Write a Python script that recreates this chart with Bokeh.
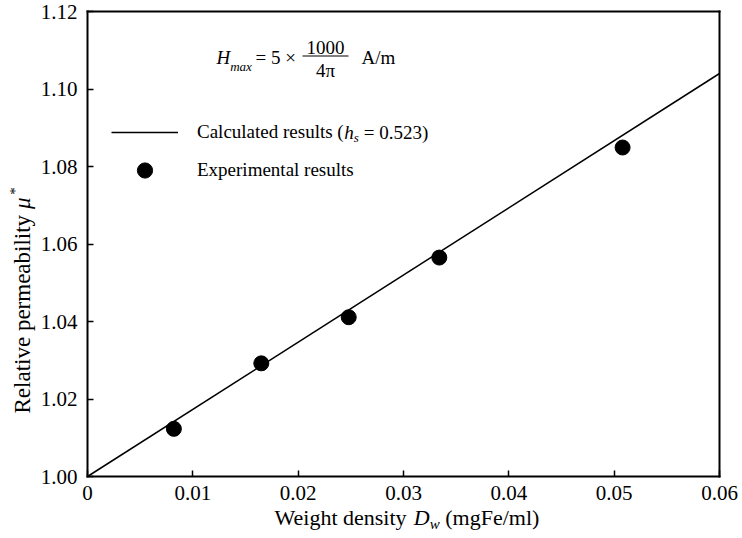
from bokeh.plotting import figure
from bokeh.models import Range1d, Label, Legend, LegendItem, BoxAnnotation, FixedTicker, LinearAxis
from bokeh.embed import file_html
from bokeh.resources import INLINE

# ---------------- data ----------------
exp_dw = [0.0082, 0.0165, 0.0248, 0.0334, 0.0508]      # mgFe/ml
exp_mu = [1.0123, 1.0292, 1.0411, 1.0565, 1.0849]      # relative permeability
calc_dw = [0.0, 0.06]
calc_mu = [1.0, 1.104]
x_ticks = [0.0, 0.01, 0.02, 0.03, 0.04, 0.05, 0.06]
x_tick_labels = ["0", "0.01", "0.02", "0.03", "0.04", "0.05", "0.06"]
y_ticks = [1.00, 1.02, 1.04, 1.06, 1.08, 1.10, 1.12]
y_tick_labels = ["1.00", "1.02", "1.04", "1.06", "1.08", "1.10", "1.12"]
legend_calc = "Calculated results ("
legend_exp = "Experimental results"
X0, X1 = 0.0, 0.06
Y0, Y1 = 1.0, 1.12

# ---------------- layout ----------------
FONT = "Liberation Serif"
W, H = 742, 538
FL, FR, FT, FB = 87, 719, 11, 476   # axes box edges in canvas pixels
KX = (X1 - X0) / (FR - FL)
KY = (Y1 - Y0) / (FB - FT)
XS0, XS1 = X0 - FL * KX, X1 + (W - FR) * KX
YS0, YS1 = Y0 - (H - FB) * KY, Y1 + FT * KY

def dx(px):
    return XS0 + px * KX

def dy(py):
    return YS1 - py * KY

# Times / Liberation Serif advance widths (per 1000 em)
REG = {" ": 250, "(": 333, ")": 333, "*": 500, ".": 250, "/": 278, "=": 564, "×": 564,
       "A": 722, "C": 667, "D": 722, "E": 611, "F": 556, "H": 722, "R": 667, "W": 944,
       "a": 444, "b": 500, "c": 444, "d": 500, "e": 444, "g": 500, "h": 500, "i": 278,
       "l": 278, "m": 778, "n": 500, "p": 500, "r": 333, "s": 389, "t": 278, "u": 500,
       "v": 500, "w": 722, "x": 500, "y": 500, "π": 549}
for ch in "0123456789":
    REG[ch] = 500
ITA = {"D": 722, "H": 722, "h": 500, "s": 389, "w": 667, "m": 722, "a": 500, "x": 444, "μ": 576}

def tw(text, size, italic=False):
    tab = ITA if italic else REG
    return sum(tab.get(c, 500) for c in text) * size / 1000.0

p = figure(width=W, height=H, output_backend="svg", toolbar_location=None,
           x_range=Range1d(XS0, XS1), y_range=Range1d(YS0, YS1),
           min_border=0, min_border_left=0, min_border_right=0,
           min_border_top=0, min_border_bottom=0)
p.background_fill_color = "white"
p.border_fill_color = "white"
p.outline_line_color = None
p.xgrid.visible = False
p.ygrid.visible = False

# main axes, pinned to the data box
p.xaxis.fixed_location = Y0
p.xaxis.bounds = (X0, X1)
p.yaxis.fixed_location = X0
p.yaxis.bounds = (Y0, Y1)
p.xaxis.ticker = FixedTicker(ticks=x_ticks, minor_ticks=[])
p.yaxis.ticker = FixedTicker(ticks=y_ticks, minor_ticks=[])
p.xaxis.major_label_overrides = dict(zip(x_ticks, x_tick_labels))
p.yaxis.major_label_overrides = dict(zip(y_ticks, y_tick_labels))
for ax in (p.xaxis[0], p.yaxis[0]):
    ax.axis_line_width = 2
    ax.axis_line_color = "black"
    ax.axis_line_cap = "square"
    ax.major_tick_in = 6
    ax.major_tick_out = 0
    ax.major_tick_line_width = 1.5
    ax.major_tick_line_color = "black"
    ax.minor_tick_line_color = None
    ax.major_label_text_font = FONT
    ax.major_label_text_font_size = "21px"
    ax.major_label_text_color = "black"
p.xaxis.major_label_standoff = 9
p.yaxis.major_label_standoff = 10

# top and right edges of the box
top_ax = LinearAxis(fixed_location=Y1, bounds=(X0, X1), ticker=FixedTicker(ticks=[], minor_ticks=[]),
                    axis_line_width=2, axis_line_cap="square", major_tick_line_color=None,
                    minor_tick_line_color=None, major_label_text_font_size="0px")
right_ax = LinearAxis(fixed_location=X1, bounds=(Y0, Y1), ticker=FixedTicker(ticks=[], minor_ticks=[]),
                      axis_line_width=2, axis_line_cap="square", major_tick_line_color=None,
                      minor_tick_line_color=None, major_label_text_font_size="0px")
p.add_layout(top_ax, "above")
p.add_layout(right_ax, "right")

# ---------------- data glyphs ----------------
r_line = p.line(calc_dw, calc_mu, line_color="black", line_width=1.5)
r_pts = p.scatter(exp_dw, exp_mu, size=15, fill_color="black", line_color="black")

# ---------------- legend ----------------
LG_X, LG_Y = 111, 113          # legend top-left (canvas px)
GW, GH, STAND = 67, 38, 19
leg = Legend(items=[LegendItem(label=legend_calc, renderers=[r_line]),
                    LegendItem(label=legend_exp, renderers=[r_pts])],
             location=(LG_X, H - LG_Y - 2 * GH),
             glyph_width=GW, glyph_height=GH, label_height=GH, label_standoff=STAND,
             spacing=0, padding=0, margin=0, border_line_color=None,
             background_fill_alpha=0, label_text_font=FONT, label_text_font_size="19px",
             label_text_color="black")
p.add_layout(leg)

def lab(text, px, py, size, style="normal", align="left", angle=0):
    # py is the vertical middle of the text line
    p.add_layout(Label(x=dx(px), y=dy(py), text=text, text_font=FONT,
                       text_font_size=f"{size}px", text_font_style=style,
                       text_align=align, text_baseline="middle", angle=angle,
                       angle_units="deg", text_color="black"))

def mid(baseline, size):
    return baseline - 0.29 * size

# rest of the first legend label: (h_s = 0.523)
row1 = LG_Y + GH / 2
hx = LG_X + GW + STAND + tw(legend_calc, 19)
lab("h", hx, row1, 19, "italic")
sx = hx + tw("h", 19, True)
lab("s", sx, row1 + 5, 13, "italic")
lab("= 0.523)", sx + tw("s", 13, True) + 5, row1, 19)

# formula: H_max = 5 x 1000/4pi A/m
lab("H", 216, mid(63, 19), 19, "italic")
lab("max", 216 + tw("H", 19, True), mid(70, 13), 13, "italic")
lab("= 5 ×", 255, mid(63, 19), 19)
lab("1000", 325, mid(53, 19), 19, align="center")
lab("4π", 325, mid(76, 19), 19, align="center")
p.add_layout(BoxAnnotation(left=dx(302), right=dx(348), top=dy(55), bottom=dy(56),
                           fill_color="black", fill_alpha=1, line_color=None))
lab("A/m", 361, mid(63, 19), 19)

# x axis title: Weight density D_w (mgFe/ml)
XS, XB, XF = 274, 523, 22
t1 = "Weight density"
lab(t1, XS, mid(XB, XF), XF)
x2 = XS + tw(t1 + " ", XF)
lab("D", x2, mid(XB, XF), XF, "italic")
x3 = x2 + tw("D", XF, True)
lab("w", x3, mid(XB + 5, 15), 15, "italic")
x4 = x3 + tw("w", 15, True) + tw(" ", XF)
lab("(mgFe/ml)", x4, mid(XB, XF), XF)

# y axis title: Relative permeability mu* (reads bottom to top)
YB, YS, YF = 29, 413, 23
ym = YB - 0.29 * YF
u1 = "Relative permeability"
lab(u1, ym, YS, YF, angle=90)
y2 = YS - tw(u1 + " ", YF)
lab("μ", ym, y2, YF, "italic", angle=90)
y3 = y2 - tw("μ", YF, True) - 1
lab("*", ym - 8, y3, 15, angle=90)

open("out.html", "w").write(file_html(p, INLINE))
